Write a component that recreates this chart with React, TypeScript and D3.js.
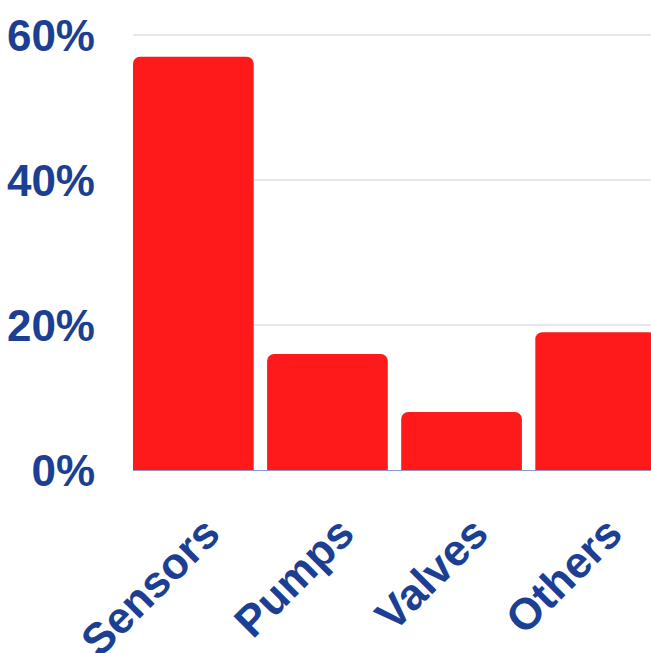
import * as d3 from 'd3';
import React, { useEffect, useRef } from 'react';

const WIDTH = 651;
const HEIGHT = 653;

const categories = ['Sensors', 'Pumps', 'Valves', 'Others'];
const shares = [57, 16, 8, 19]; // percent
const yTicks = [0, 20, 40, 60];

const BAR_COLOR = '#fe1a1a';
const TEXT_COLOR = '#1c3f94';
const GRID_COLOR = '#c9d1e3';
const BASE_COLOR = '#8797c6';
const FONT = '"Liberation Sans", Arial, sans-serif';

const margin = { top: 35, left: 133, bottom: 183 };
const plotRight = 656; // last bar runs a bit past the window edge
const CORNER = 7;

// bar with rounded top corners only
const topRoundedBar = (x: number, y: number, w: number, h: number, r: number) => {
  const rr = Math.min(r, h, w / 2);
  const p = d3.path();
  p.moveTo(x, y + h);
  p.lineTo(x, y + rr);
  p.arcTo(x, y, x + rr, y, rr);
  p.lineTo(x + w - rr, y);
  p.arcTo(x + w, y, x + w, y + rr, rr);
  p.lineTo(x + w, y + h);
  p.closePath();
  return p.toString();
};

const App: React.FC = () => {
  const ref = useRef<SVGSVGElement>(null);

  useEffect(() => {
    const svg = d3.select(ref.current);
    svg.selectAll('*').remove();

    const baseY = HEIGHT - margin.bottom;
    const x = d3.scaleBand<string>().domain(categories).range([margin.left, plotRight]).paddingInner(0.1).paddingOuter(0);
    const y = d3.scaleLinear().domain([0, 60]).range([baseY, margin.top]);

    // gridlines
    svg
      .append('g')
      .selectAll('line')
      .data(yTicks.filter(t => t > 0))
      .enter()
      .append('line')
      .attr('x1', margin.left)
      .attr('x2', WIDTH)
      .attr('y1', d => y(d))
      .attr('y2', d => y(d))
      .attr('stroke', GRID_COLOR)
      .attr('stroke-width', 1);

    // y tick labels
    svg
      .append('g')
      .selectAll('text')
      .data(yTicks)
      .enter()
      .append('text')
      .attr('x', 95)
      .attr('y', d => y(d) + 16)
      .attr('text-anchor', 'end')
      .style('font-family', FONT)
      .style('font-weight', 'bold')
      .style('font-size', '44px')
      .style('fill', TEXT_COLOR)
      .text(d => `${d}%`);

    // bars
    svg
      .append('g')
      .selectAll('path')
      .data(shares)
      .enter()
      .append('path')
      .attr('d', (d, i) => topRoundedBar(x(categories[i]) as number, y(d), x.bandwidth(), baseY - y(d), CORNER))
      .attr('fill', BAR_COLOR);

    // base line
    svg
      .append('line')
      .attr('x1', margin.left)
      .attr('x2', WIDTH)
      .attr('y1', baseY + 0.5)
      .attr('y2', baseY + 0.5)
      .attr('stroke', BASE_COLOR)
      .attr('stroke-width', 1);

    // rotated category labels
    svg
      .append('g')
      .selectAll('text')
      .data(categories)
      .enter()
      .append('text')
      .attr('transform', d => `translate(${(x(d) as number) + x.bandwidth() / 2 + 29},${baseY + 66}) rotate(-45)`)
      .attr('text-anchor', 'end')
      .style('font-family', FONT)
      .style('font-weight', 'bold')
      .style('font-size', '44px')
      .style('fill', TEXT_COLOR)
      .text(d => d);
  }, []);

  return (
    <svg
      ref={ref}
      width={WIDTH}
      height={HEIGHT}
      style={{ position: 'absolute', left: 0, top: 0, background: '#fff' }}
    />
  );
};

export default App;
